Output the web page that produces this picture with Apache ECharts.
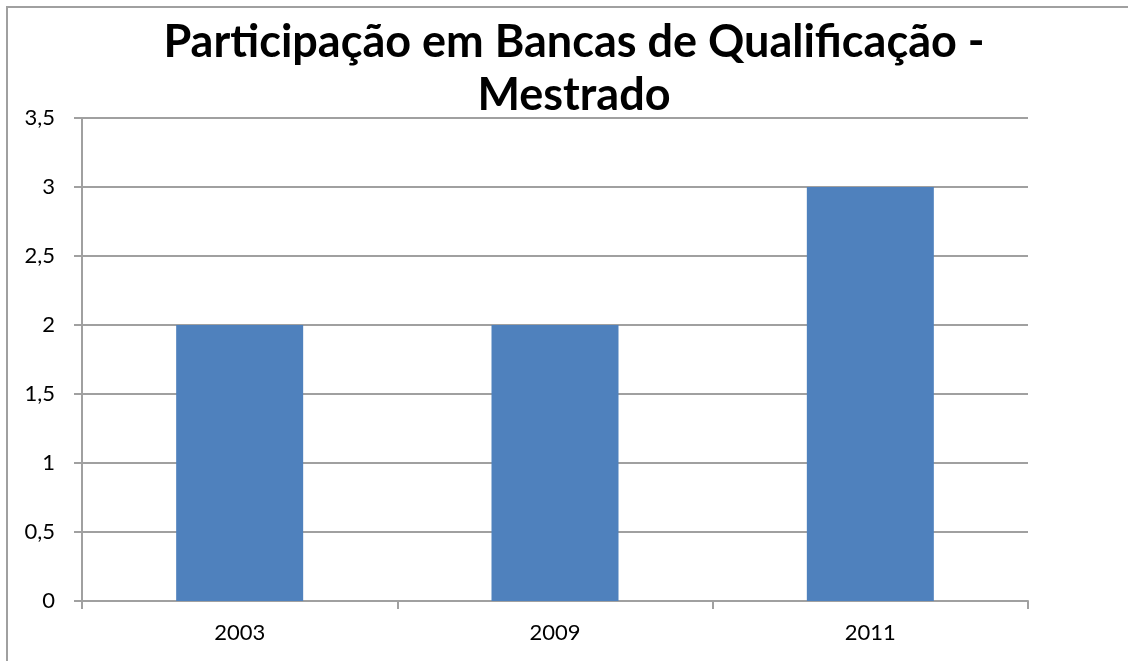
<!DOCTYPE html>
<html>
<head>
<meta charset="utf-8">
<title>Participação em Bancas de Qualificação - Mestrado</title>
<script src="https://cdn.jsdelivr.net/npm/echarts@6/dist/echarts.min.js"></script>
<style>
  html, body { margin: 0; padding: 0; background: #fff; }
  #chart { width: 1128px; height: 661px; }
</style>
</head>
<body>
<div id="chart"></div>
<script>
// dados do gráfico
const anos = ['2003', '2009', '2011']
const bancas = [2, 2, 3]
const tituloTexto = 'Participação em Bancas de Qualificação -\nMestrado'

const cinza = '#a0a0a0'

const chart = echarts.init(document.getElementById('chart'))

const option = {
  backgroundColor: '#fff',
  animation: false,
  graphic: [
    // moldura (cortada à direita e embaixo como na imagem)
    { type: 'rect', shape: { x: 7, y: 7, width: 1140, height: 670 },
      style: { fill: 'none', stroke: cinza, lineWidth: 2 }, z: -1 }
  ],
  title: {
    text: tituloTexto,
    left: 569,
    top: 11,
    textAlign: 'center',
    textStyle: {
      fontFamily: 'Lato',
      fontWeight: 'bold',
      fontSize: 45,
      lineHeight: 53,
      color: '#000'
    },
    z: 10
  },
  grid: { left: 82, right: 100, top: 118, bottom: 60, containLabel: false },
  xAxis: {
    type: 'category',
    data: anos,
    axisLine: { lineStyle: { color: cinza, width: 2 } },
    axisTick: { show: true, alignWithLabel: false, length: 8, lineStyle: { color: cinza, width: 2 } },
    axisLabel: { color: '#000', fontFamily: 'Lato', fontSize: 22, margin: 21 }
  },
  yAxis: {
    type: 'value',
    min: 0,
    max: 3.5,
    interval: 0.5,
    axisLine: { show: true, lineStyle: { color: cinza, width: 2 } },
    axisTick: { show: true, length: 8, lineStyle: { color: cinza, width: 2 } },
    splitLine: { show: true, lineStyle: { color: cinza, width: 2 } },
    axisLabel: {
      color: '#000', fontFamily: 'Lato', fontSize: 22, margin: 27,
      formatter: v => String(v).replace('.', ',')
    }
  },
  series: [{
    type: 'bar',
    data: bancas,
    barWidth: 127,
    itemStyle: { color: '#4f81bd' }
  }]
}

chart.setOption(option)
</script>
</body>
</html>
